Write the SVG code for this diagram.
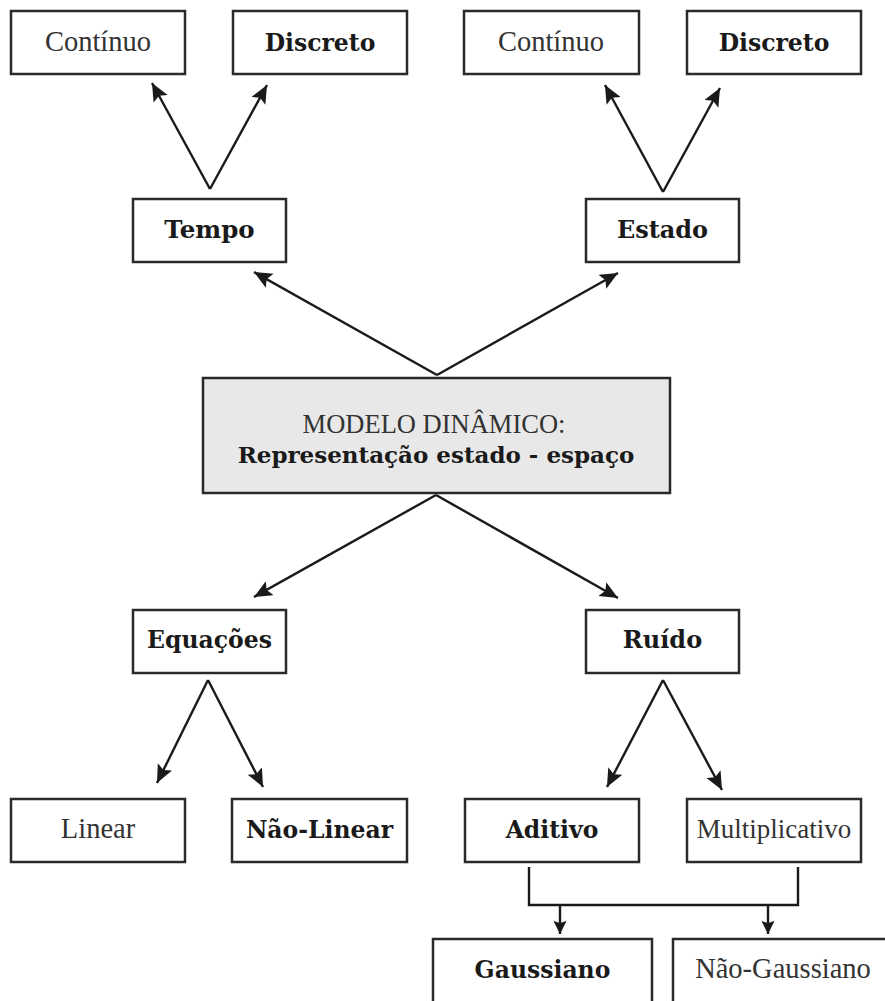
<svg xmlns="http://www.w3.org/2000/svg" width="885" height="1001" viewBox="0 0 885 1001">
<style>
.box{fill:#fff;stroke:#2a2a2a;stroke-width:2.5}
.main{fill:#e8e8e8;stroke:#2a2a2a;stroke-width:2.5}
.reg{font-family:"Liberation Serif",serif;font-size:28.5px;fill:#333;text-anchor:middle}
.bold{font-family:"DejaVu Serif",serif;font-weight:bold;font-size:23.5px;fill:#1a1a1a;text-anchor:middle}
.ln{fill:none;stroke:#1a1a1a;stroke-width:2.4}
</style>
<defs>
<marker id="ah" markerUnits="userSpaceOnUse" markerWidth="20" markerHeight="17" refX="18" refY="8" orient="auto">
<path d="M0,0 L18,8 L0,16 L3.5,8 z" fill="#1a1a1a"/>
</marker>
<marker id="sh" markerUnits="userSpaceOnUse" markerWidth="14" markerHeight="14" refX="13" refY="6.5" orient="auto">
<path d="M0,0 L13,6.5 L0,13 L2,6.5 z" fill="#1a1a1a"/>
</marker>
</defs>
<g id="connectors">
<path class="ln" d="M210,189 L152,83" marker-end="url(#ah)"/>
<path class="ln" d="M210,189 L267,85" marker-end="url(#ah)"/>
<path class="ln" d="M663,192 L605,85" marker-end="url(#ah)"/>
<path class="ln" d="M663,192 L720,88" marker-end="url(#ah)"/>
<path class="ln" d="M437,375 L254,272" marker-end="url(#ah)"/>
<path class="ln" d="M437,375 L618,273" marker-end="url(#ah)"/>
<path class="ln" d="M436,495 L254,597" marker-end="url(#ah)"/>
<path class="ln" d="M436,495 L618,598" marker-end="url(#ah)"/>
<path class="ln" d="M208,680 L157,783" marker-end="url(#ah)"/>
<path class="ln" d="M208,680 L263,787" marker-end="url(#ah)"/>
<path class="ln" d="M663,680 L607,787" marker-end="url(#ah)"/>
<path class="ln" d="M663,680 L722,790" marker-end="url(#ah)"/>
<path class="ln" d="M529,867 V905 H798 V867"/>
<path class="ln" d="M560,905 V934" marker-end="url(#sh)"/>
<path class="ln" d="M768,905 V934" marker-end="url(#sh)"/>
</g>
<g id="tempo-continuo"><rect class="box" x="11" y="11" width="174" height="63"/><text class="reg" x="98" y="51">Contínuo</text></g>
<g id="tempo-discreto"><rect class="box" x="233" y="11" width="174" height="63"/><text class="bold" x="320" y="51">Discreto</text></g>
<g id="estado-continuo"><rect class="box" x="464" y="11" width="175" height="63"/><text class="reg" x="551" y="51">Contínuo</text></g>
<g id="estado-discreto"><rect class="box" x="687" y="11" width="174" height="63"/><text class="bold" x="774" y="51">Discreto</text></g>
<g id="tempo"><rect class="box" x="133" y="199" width="153" height="63"/><text class="bold" x="209.5" y="238" style="font-size:24.5px">Tempo</text></g>
<g id="estado"><rect class="box" x="586" y="199" width="153" height="63"/><text class="bold" x="662.5" y="238" style="font-size:24px">Estado</text></g>
<g id="modelo"><rect class="main" x="203" y="378" width="467" height="115"/><text class="reg" x="434" y="433" style="font-size:26.5px">MODELO DINÂMICO:</text><text class="bold" x="436" y="463" style="font-size:23px">Representação estado - espaço</text></g>
<g id="equacoes"><rect class="box" x="133" y="610" width="153" height="63"/><text class="bold" x="209.5" y="648">Equações</text></g>
<g id="ruido"><rect class="box" x="586" y="610" width="153" height="63"/><text class="bold" x="662.5" y="648" style="font-size:24px">Ruído</text></g>
<g id="linear"><rect class="box" x="11" y="799" width="174" height="63"/><text class="reg" x="98" y="838">Linear</text></g>
<g id="nao-linear"><rect class="box" x="232" y="799" width="175" height="63"/><text class="bold" x="319.5" y="838">Não-Linear</text></g>
<g id="aditivo"><rect class="box" x="465" y="799" width="174" height="63"/><text class="bold" x="552" y="838">Aditivo</text></g>
<g id="multiplicativo"><rect class="box" x="687" y="799" width="174" height="63"/><text class="reg" x="774" y="838" style="font-size:27px">Multiplicativo</text></g>
<g id="gaussiano"><rect class="box" x="433" y="939" width="219" height="70"/><text class="bold" x="542.5" y="978">Gaussiano</text></g>
<g id="nao-gaussiano"><rect class="box" x="673" y="939" width="220" height="70"/><text class="reg" x="783" y="978">Não-Gaussiano</text></g>
</svg>
